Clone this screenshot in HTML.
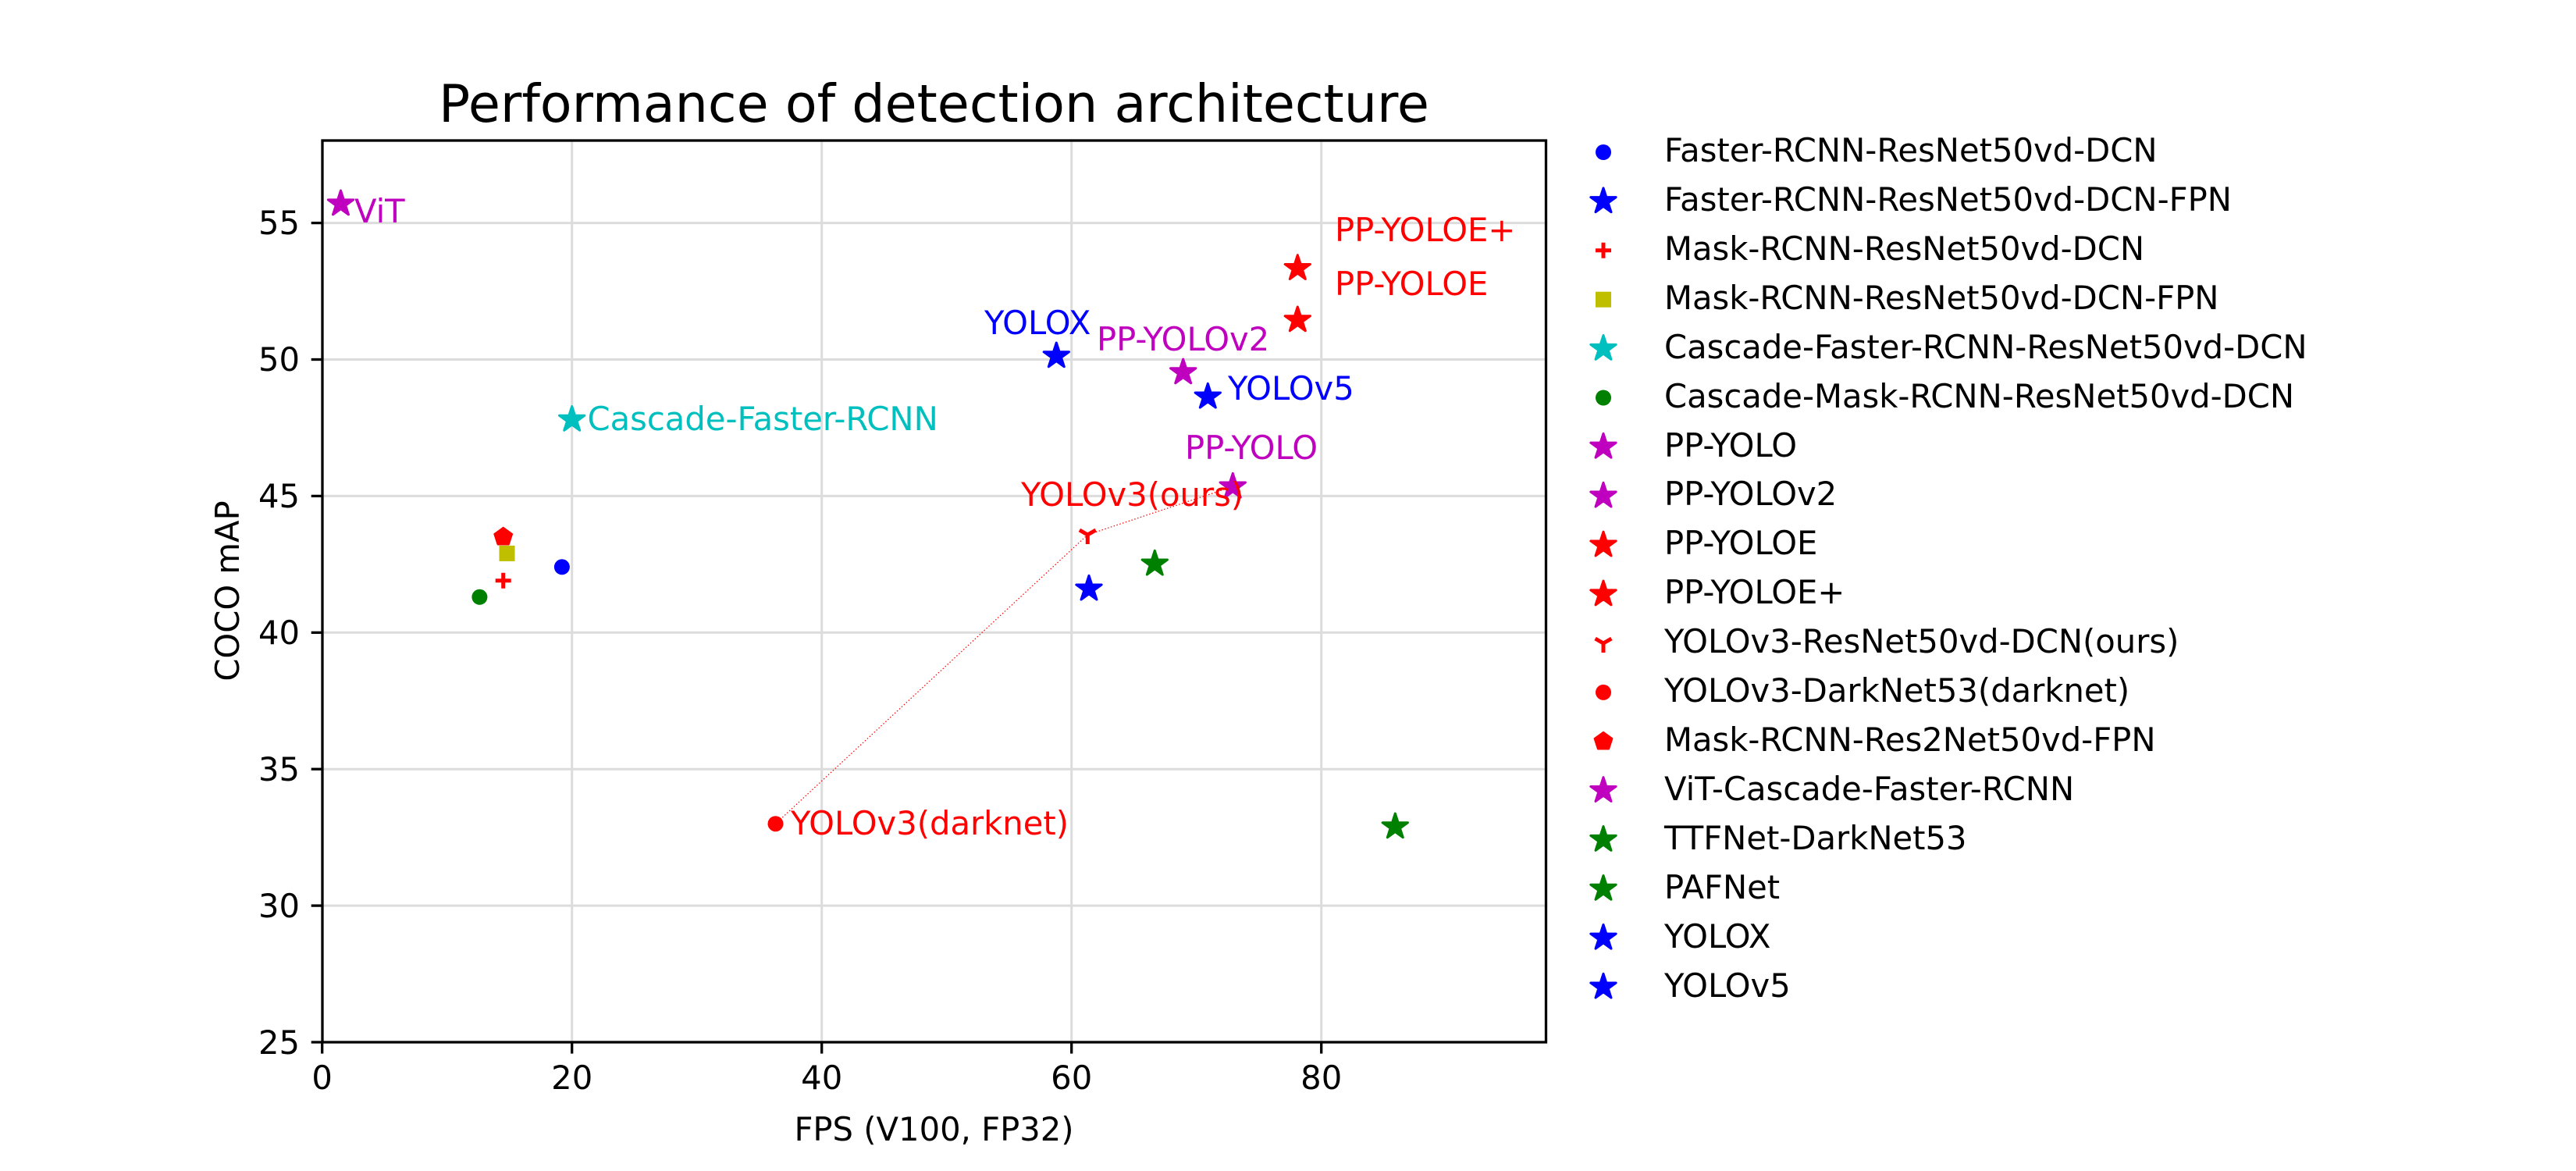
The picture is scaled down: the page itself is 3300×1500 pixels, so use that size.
<!DOCTYPE html>
<html><head><meta charset="utf-8"><style>
html,body{margin:0;padding:0;background:#fff;}
svg{display:block;}
text{font-family:"DejaVu Sans","Liberation Sans",sans-serif;}
</style></head><body>
<svg width="3300" height="1500" viewBox="0 0 3300 1500" xmlns="http://www.w3.org/2000/svg">
<defs>
<polygon id="st" points="0,-17 3.82,-5.26 16.17,-5.25 6.18,2.01 9.99,13.75 0,6.5 -9.99,13.75 -6.18,2.01 -16.17,-5.25 -3.82,-5.26" stroke-width="3" stroke-linejoin="round"/>
<polygon id="pg" points="0,-12 11.4,-3.7 7.05,9.7 -7.05,9.7 -11.4,-3.7" stroke-width="2" stroke-linejoin="round"/>
</defs>
<rect width="3300" height="1500" fill="#fff"/>
<text x="1196.5" y="156" font-size="66.7" text-anchor="middle">Performance of detection architecture</text>
<g stroke="#dcdcdc" stroke-width="3">
<line x1="732.7" y1="180" x2="732.7" y2="1335"/>
<line x1="1052.7" y1="180" x2="1052.7" y2="1335"/>
<line x1="1372.7" y1="180" x2="1372.7" y2="1335"/>
<line x1="1692.7" y1="180" x2="1692.7" y2="1335"/>
<line x1="413" y1="1160.1" x2="1980" y2="1160.1"/>
<line x1="413" y1="985.2" x2="1980" y2="985.2"/>
<line x1="413" y1="810.3" x2="1980" y2="810.3"/>
<line x1="413" y1="635.4" x2="1980" y2="635.4"/>
<line x1="413" y1="460.5" x2="1980" y2="460.5"/>
<line x1="413" y1="285.6" x2="1980" y2="285.6"/>
</g>
<g stroke="#000" stroke-width="3.3">
<line x1="412.7" y1="1335" x2="412.7" y2="1349.6"/>
<line x1="732.7" y1="1335" x2="732.7" y2="1349.6"/>
<line x1="1052.7" y1="1335" x2="1052.7" y2="1349.6"/>
<line x1="1372.7" y1="1335" x2="1372.7" y2="1349.6"/>
<line x1="1692.7" y1="1335" x2="1692.7" y2="1349.6"/>
<line x1="398.7" y1="1335" x2="413.3" y2="1335"/>
<line x1="398.7" y1="1160.1" x2="413.3" y2="1160.1"/>
<line x1="398.7" y1="985.2" x2="413.3" y2="985.2"/>
<line x1="398.7" y1="810.3" x2="413.3" y2="810.3"/>
<line x1="398.7" y1="635.4" x2="413.3" y2="635.4"/>
<line x1="398.7" y1="460.5" x2="413.3" y2="460.5"/>
<line x1="398.7" y1="285.6" x2="413.3" y2="285.6"/>
</g>
<g font-size="41.7" text-anchor="middle">
<text x="412.7" y="1395">0</text><text x="732.7" y="1395">20</text><text x="1052.7" y="1395">40</text><text x="1372.7" y="1395">60</text><text x="1692.7" y="1395">80</text>
</g>
<g font-size="41.7" text-anchor="end">
<text x="384" y="1350">25</text><text x="384" y="1175">30</text><text x="384" y="1000">35</text><text x="384" y="825">40</text><text x="384" y="650">45</text><text x="384" y="475">50</text><text x="384" y="300">55</text>
</g>
<text x="1196.5" y="1461" font-size="41.7" text-anchor="middle">FPS (V100, FP32)</text>
<text transform="translate(306,757) rotate(-90)" font-size="41.7" text-anchor="middle">COCO mAP</text>
<polyline points="993.5,1055.2 1393.3,685 1579.3,623.3" fill="none" stroke="#ff0000" stroke-width="1.2" stroke-dasharray="1.5,2.5"/>
<circle cx="719.9" cy="726.3" r="10" fill="#0000ff"/>
<use href="#st" x="1395" y="754.3" fill="#0000ff" stroke="#0000ff"/>
<path d="M634.7,743.8h20M644.7,733.8v20" stroke="#ff0000" stroke-width="5"/>
<rect x="639.5" y="698.9" width="20" height="20" fill="#bfbf00"/>
<use href="#st" x="732.7" y="537.5" fill="#00bfbf" stroke="#00bfbf"/>
<circle cx="614.4" cy="764.8" r="10" fill="#008000"/>
<use href="#st" x="1579.3" y="623.3" fill="#bf00bf" stroke="#bf00bf"/>
<use href="#st" x="1515.7" y="477" fill="#bf00bf" stroke="#bf00bf"/>
<use href="#st" x="1662.3" y="410" fill="#ff0000" stroke="#ff0000"/>
<use href="#st" x="1662.3" y="343.7" fill="#ff0000" stroke="#ff0000"/>
<path d="M1393.3,685v12M1393.3,685l-10.4,-6M1393.3,685l10.4,-6" stroke="#ff0000" stroke-width="5" fill="none"/>
<circle cx="993.5" cy="1055.2" r="10" fill="#ff0000"/>
<use href="#pg" x="644.7" y="687.8" fill="#ff0000" stroke="#ff0000"/>
<use href="#st" x="436.5" y="261.1" fill="#bf00bf" stroke="#bf00bf"/>
<use href="#st" x="1787.3" y="1059" fill="#008000" stroke="#008000"/>
<use href="#st" x="1479.3" y="722.3" fill="#008000" stroke="#008000"/>
<use href="#st" x="1353.3" y="456" fill="#0000ff" stroke="#0000ff"/>
<use href="#st" x="1547.3" y="508.3" fill="#0000ff" stroke="#0000ff"/>
<g font-size="41.7">
<text x="454" y="285" fill="#bf00bf">ViT</text>
<text x="1710" y="309" fill="#ff0000">PP-YOLOE+</text>
<text x="1710" y="378" fill="#ff0000">PP-YOLOE</text>
<text x="1261" y="428" fill="#0000ff">YOLOX</text>
<text x="1405" y="449" fill="#bf00bf">PP-YOLOv2</text>
<text x="1573" y="512" fill="#0000ff">YOLOv5</text>
<text x="752.5" y="551" fill="#00bfbf">Cascade-Faster-RCNN</text>
<text x="1518" y="588" fill="#bf00bf">PP-YOLO</text>
<text x="1308" y="648" fill="#ff0000">YOLOv3(ours)</text>
<text x="1013" y="1069" fill="#ff0000">YOLOv3(darknet)</text>
</g>
<rect x="413" y="180" width="1567.5" height="1155" fill="none" stroke="#000" stroke-width="3.3"/>
<g font-size="41.7">
<circle cx="2054" cy="195" r="10" fill="#0000ff"/><text x="2132" y="207">Faster-RCNN-ResNet50vd-DCN</text>
<use href="#st" x="2054" y="257.9" fill="#0000ff" stroke="#0000ff"/><text x="2132" y="270">Faster-RCNN-ResNet50vd-DCN-FPN</text>
<path d="M2044,320.8h20M2054,310.8v20" stroke="#ff0000" stroke-width="5"/><text x="2132" y="333">Mask-RCNN-ResNet50vd-DCN</text>
<rect x="2044" y="373.7" width="20" height="20" fill="#bfbf00"/><text x="2132" y="396">Mask-RCNN-ResNet50vd-DCN-FPN</text>
<use href="#st" x="2054" y="446.6" fill="#00bfbf" stroke="#00bfbf"/><text x="2132" y="459">Cascade-Faster-RCNN-ResNet50vd-DCN</text>
<circle cx="2054" cy="509.5" r="10" fill="#008000"/><text x="2132" y="522">Cascade-Mask-RCNN-ResNet50vd-DCN</text>
<use href="#st" x="2054" y="572.4" fill="#bf00bf" stroke="#bf00bf"/><text x="2132" y="585">PP-YOLO</text>
<use href="#st" x="2054" y="635.3" fill="#bf00bf" stroke="#bf00bf"/><text x="2132" y="647">PP-YOLOv2</text>
<use href="#st" x="2054" y="698.2" fill="#ff0000" stroke="#ff0000"/><text x="2132" y="710">PP-YOLOE</text>
<use href="#st" x="2054" y="761.1" fill="#ff0000" stroke="#ff0000"/><text x="2132" y="773">PP-YOLOE+</text>
<path d="M2054,824v12M2054,824l-10.4,-6M2054,824l10.4,-6" stroke="#ff0000" stroke-width="5" fill="none"/><text x="2132" y="836">YOLOv3-ResNet50vd-DCN(ours)</text>
<circle cx="2054" cy="886.9" r="10" fill="#ff0000"/><text x="2132" y="899">YOLOv3-DarkNet53(darknet)</text>
<use href="#pg" x="2054" y="949.8" fill="#ff0000" stroke="#ff0000"/><text x="2132" y="962">Mask-RCNN-Res2Net50vd-FPN</text>
<use href="#st" x="2054" y="1012.7" fill="#bf00bf" stroke="#bf00bf"/><text x="2132" y="1025">ViT-Cascade-Faster-RCNN</text>
<use href="#st" x="2054" y="1075.6" fill="#008000" stroke="#008000"/><text x="2132" y="1088">TTFNet-DarkNet53</text>
<use href="#st" x="2054" y="1138.5" fill="#008000" stroke="#008000"/><text x="2132" y="1151">PAFNet</text>
<use href="#st" x="2054" y="1201.4" fill="#0000ff" stroke="#0000ff"/><text x="2132" y="1214">YOLOX</text>
<use href="#st" x="2054" y="1264.3" fill="#0000ff" stroke="#0000ff"/><text x="2132" y="1277">YOLOv5</text>
</g>
</svg>
</body></html>
